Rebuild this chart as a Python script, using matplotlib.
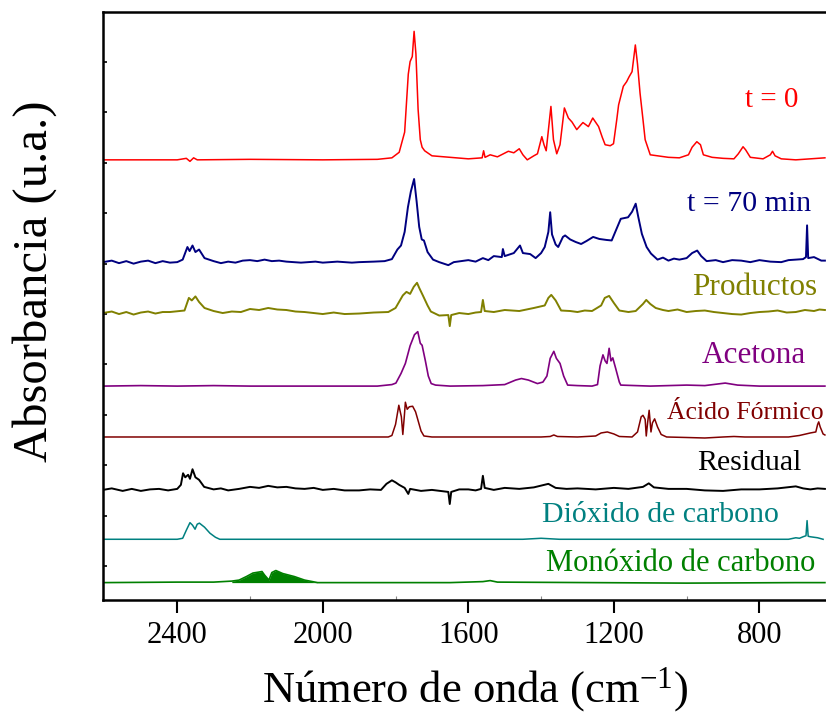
import matplotlib
matplotlib.use('Agg')
import matplotlib.pyplot as plt
import numpy as np

plt.rcParams['font.family'] = 'Liberation Serif'
plt.rcParams['mathtext.fontset'] = 'custom'
plt.rcParams['mathtext.rm'] = 'Liberation Serif'
plt.rcParams['mathtext.it'] = 'Liberation Serif:italic'

# FTIR spectra, stacked with a vertical offset (wavenumber in cm-1, absorbance in a.u.)
names = ['t = 0', 't = 70 min', 'Productos', 'Acetona', 'Ácido Fórmico',
         'Residual', 'Dióxido de carbono', 'Monóxido de carbono']
colors = ['#ff0000', '#000080', '#808000', '#800080', '#800000',
          '#000000', '#008080', '#008000']
offsets = [9.06, 7.03, 6.02, 4.57, 3.56, 2.51, 1.53, 0.67]

t0_wn = [2604, 2400, 2375, 2365, 2355, 2345, 2200, 2000, 1850, 1810, 1790, 1775, 1765, 1760,
         1754, 1749, 1744, 1738, 1732, 1727, 1720, 1700, 1650, 1600, 1562, 1558, 1554, 1540,
         1520, 1490, 1475, 1460, 1450, 1438, 1420, 1410, 1398, 1392, 1386, 1373, 1366, 1357,
         1348, 1336, 1325, 1315, 1302, 1290, 1285, 1270, 1258, 1242, 1232, 1224, 1210, 1201,
         1192, 1187, 1174, 1165, 1158, 1150, 1141, 1135, 1128, 1120, 1114, 1100, 1080, 1050,
         1020, 995, 985, 972, 962, 954, 930, 900, 870, 858, 845, 838, 825, 790, 770, 764,
         757, 740, 700, 620]
t0_abs = [0.00, 0.00, 0.03, -0.03, 0.04, 0.00, 0.01, 0.00, 0.01, 0.04, 0.15, 0.55, 1.70, 1.95,
          2.05, 2.55, 2.10, 1.00, 0.40, 0.25, 0.18, 0.08, 0.05, 0.02, 0.04, 0.18, 0.05, 0.10,
          0.06, 0.17, 0.14, 0.22, 0.10, 0.00, 0.08, 0.12, 0.46, 0.30, 0.18, 1.06, 0.40, 0.12,
          0.30, 1.03, 0.83, 0.75, 0.60, 0.70, 0.74, 0.66, 0.83, 0.66, 0.45, 0.30, 0.28, 0.32,
          0.80, 1.09, 1.46, 1.55, 1.65, 1.75, 2.28, 1.90, 1.32, 0.80, 0.40, 0.10, 0.08, 0.05,
          0.04, 0.10, 0.25, 0.36, 0.30, 0.10, 0.05, 0.03, 0.02, 0.12, 0.26, 0.20, 0.05, 0.02,
          0.10, 0.17, 0.08, 0.02, 0.00, 0.04]

t70_wn = [2604, 2580, 2560, 2540, 2520, 2500, 2480, 2460, 2440, 2420, 2400, 2385, 2372, 2366,
          2358, 2350, 2340, 2325, 2300, 2280, 2260, 2240, 2220, 2200, 2180, 2160, 2140, 2120,
          2100, 2060, 2020, 2000, 1960, 1920, 1900, 1860, 1830, 1810, 1795, 1785, 1775, 1766,
          1758, 1749, 1742, 1735, 1728, 1722, 1712, 1697, 1680, 1655, 1640, 1600, 1580, 1560,
          1545, 1530, 1508, 1505, 1500, 1475, 1458, 1450, 1430, 1415, 1400, 1390, 1380, 1375,
          1370, 1360, 1353, 1340, 1334, 1320, 1305, 1290, 1275, 1257, 1240, 1220, 1206, 1195,
          1181, 1161, 1150, 1140, 1133, 1123, 1110, 1098, 1080, 1065, 1050, 1035, 1020, 1000,
          985, 971, 960, 945, 920, 900, 875, 850, 825, 800, 770, 740, 720, 700, 680, 672, 669,
          666, 650, 630, 620]
t70_abs = [0.00, 0.03, -0.02, 0.02, -0.03, 0.01, 0.03, -0.02, 0.02, -0.01, 0.00, 0.05, 0.30, 0.22,
           0.33, 0.20, 0.25, 0.08, 0.02, -0.02, 0.01, -0.01, 0.03, 0.04, 0.02, 0.05, 0.02, 0.03,
           0.01, -0.01, 0.01, -0.01, 0.01, -0.01, 0.00, 0.01, 0.02, 0.06, 0.25, 0.33, 0.60, 1.09,
           1.40, 1.65, 1.20, 0.70, 0.45, 0.43, 0.20, 0.05, 0.00, -0.06, 0.00, 0.04, 0.01, 0.08,
           0.04, 0.12, 0.10, 0.26, 0.12, 0.18, 0.33, 0.18, 0.16, 0.08, 0.18, 0.30, 0.60, 0.99,
           0.55, 0.35, 0.30, 0.50, 0.53, 0.45, 0.40, 0.36, 0.42, 0.50, 0.46, 0.44, 0.43, 0.62,
           0.86, 0.89, 1.00, 1.16, 0.90, 0.56, 0.30, 0.17, 0.05, 0.09, 0.03, 0.07, 0.05, 0.08,
           0.18, 0.23, 0.12, 0.02, 0.04, 0.00, 0.04, 0.03, 0.00, 0.04, 0.01, 0.00, 0.04, 0.05,
           0.06, 0.10, 0.73, 0.08, 0.10, 0.03, 0.03]

prod_wn = [2604, 2580, 2560, 2540, 2520, 2500, 2480, 2460, 2440, 2420, 2380, 2368, 2360, 2350,
           2340, 2325, 2300, 2275, 2250, 2225, 2200, 2175, 2150, 2125, 2100, 2075, 2050, 2025,
           2000, 1970, 1940, 1900, 1860, 1820, 1800, 1780, 1770, 1760, 1750, 1741, 1735, 1725,
           1712, 1703, 1680, 1655, 1651, 1647, 1625, 1600, 1580, 1565, 1560, 1555, 1530, 1500,
           1460, 1420, 1390, 1380, 1372, 1360, 1345, 1320, 1300, 1280, 1260, 1235, 1225, 1213,
           1200, 1185, 1160, 1140, 1120, 1111, 1100, 1085, 1065, 1050, 1025, 1000, 975, 950, 925,
           900, 875, 850, 825, 800, 775, 750, 725, 700, 675, 650, 635, 620]
prod_abs = [0.00, 0.03, -0.02, 0.02, -0.03, 0.01, 0.03, -0.01, 0.02, 0.02, 0.05, 0.30, 0.25, 0.33,
            0.22, 0.10, 0.04, 0.00, 0.03, 0.02, 0.08, 0.06, 0.10, 0.07, 0.06, 0.03, 0.02, 0.00,
            -0.02, 0.01, -0.02, -0.01, 0.01, 0.02, 0.10, 0.35, 0.42, 0.38, 0.52, 0.60, 0.50, 0.35,
            0.15, 0.03, -0.05, -0.04, -0.26, -0.04, 0.00, -0.02, 0.01, 0.02, 0.26, 0.04, 0.02, 0.06,
            0.04, 0.10, 0.15, 0.30, 0.36, 0.25, 0.05, 0.04, 0.02, 0.05, 0.04, 0.15, 0.30, 0.34,
            0.20, 0.05, 0.02, 0.04, 0.18, 0.26, 0.18, 0.10, 0.06, 0.04, 0.07, 0.02, 0.04, 0.05, 0.02,
            0.00, -0.02, -0.03, 0.00, 0.02, 0.03, 0.05, 0.01, 0.02, 0.06, 0.04, 0.07, 0.06]

acet_wn = [2604, 2500, 2400, 2300, 2200, 2000, 1850, 1810, 1799, 1785, 1773, 1760, 1748, 1739,
           1732, 1727, 1718, 1710, 1702, 1690, 1650, 1560, 1500, 1470, 1454, 1435, 1410, 1395,
           1384, 1375, 1365, 1358, 1348, 1338, 1327, 1300, 1260, 1245, 1238, 1230, 1224, 1219,
           1213, 1208, 1203, 1195, 1185, 1181, 1100, 1000, 950, 894, 860, 800, 620]
acet_abs = [0.00, 0.01, 0.00, 0.01, 0.00, 0.00, 0.00, 0.03, 0.06, 0.25, 0.45, 0.80, 1.02, 1.08,
            0.85, 0.81, 0.50, 0.20, 0.05, 0.02, 0.00, 0.01, 0.03, 0.12, 0.15, 0.12, 0.05, 0.08,
            0.20, 0.55, 0.69, 0.55, 0.45, 0.20, 0.02, 0.01, 0.00, 0.03, 0.40, 0.62, 0.50, 0.45,
            0.75, 0.50, 0.56, 0.35, 0.08, 0.02, 0.00, 0.02, 0.01, 0.06, 0.02, 0.00, 0.00]

form_wn = [2604, 2400, 2100, 1900, 1820, 1810, 1800, 1791, 1784, 1780, 1776, 1773, 1768, 1762,
           1753, 1745, 1741, 1730, 1722, 1700, 1400, 1375, 1365, 1355, 1300, 1250, 1235, 1218,
           1200, 1185, 1150, 1135, 1125, 1120, 1114, 1111, 1107, 1103, 1098, 1094, 1088, 1080,
           1070, 1055, 1000, 950, 900, 870, 840, 720, 690, 660, 645, 640, 637, 633, 625, 620]
form_abs = [0.00, 0.00, 0.00, 0.00, 0.00, 0.03, 0.25, 0.63, 0.40, 0.05, 0.40, 0.69, 0.55, 0.60,
            0.61, 0.50, 0.40, 0.12, 0.02, 0.00, 0.00, 0.01, 0.04, 0.01, 0.00, 0.02, 0.08, 0.10,
            0.06, 0.01, 0.00, 0.10, 0.40, 0.43, 0.35, 0.02, 0.30, 0.53, 0.10, 0.28, 0.36, 0.20,
            0.05, 0.00, -0.01, -0.02, 0.00, 0.01, 0.00, 0.00, 0.03, 0.08, 0.10, 0.25, 0.30, 0.20,
            0.06, 0.04]

resid_wn = [2604, 2580, 2550, 2525, 2500, 2475, 2450, 2425, 2400, 2390, 2384, 2378, 2370, 2365,
            2358, 2350, 2340, 2326, 2300, 2280, 2260, 2230, 2200, 2175, 2150, 2125, 2100, 2075,
            2050, 2025, 2000, 1970, 1940, 1900, 1870, 1840, 1825, 1810, 1800, 1790, 1775, 1765,
            1760, 1730, 1700, 1655, 1651, 1647, 1625, 1600, 1580, 1565, 1560, 1555, 1530, 1500,
            1460, 1420, 1380, 1360, 1330, 1300, 1250, 1200, 1160, 1120, 1104, 1090, 1050, 1000,
            950, 900, 850, 800, 750, 700, 680, 660, 640, 620]
resid_abs = [0.00, 0.03, -0.02, 0.02, -0.02, 0.01, 0.02, -0.01, 0.02, 0.10, 0.33, 0.25, 0.30, 0.22,
             0.41, 0.25, 0.20, 0.06, 0.01, 0.03, -0.01, 0.02, 0.06, 0.04, 0.08, 0.05, 0.06, 0.03,
             0.02, 0.04, 0.00, 0.02, -0.01, -0.01, 0.01, 0.00, 0.12, 0.19, 0.15, 0.10, 0.04, -0.08,
             0.02, -0.02, 0.00, -0.04, -0.28, -0.04, 0.01, 0.01, -0.01, 0.02, 0.28, 0.04, 0.00, 0.04,
             0.02, 0.05, 0.12, 0.04, 0.02, 0.03, 0.01, 0.04, 0.02, 0.06, 0.13, 0.05, 0.02, 0.02,
             -0.01, -0.02, 0.01, 0.01, 0.03, 0.07, 0.03, 0.01, 0.03, 0.02]

co2_wn = [2604, 2400, 2385, 2375, 2365, 2358, 2351, 2345, 2339, 2325, 2310, 2295, 2283, 2100,
          1600, 1450, 1400, 1350, 720, 700, 690, 680, 672, 669, 666, 660, 650, 640, 625]
co2_abs = [0.00, 0.00, 0.02, 0.18, 0.33, 0.28, 0.20, 0.30, 0.32, 0.24, 0.12, 0.04, 0.00, 0.00,
           0.00, 0.00, 0.02, 0.00, 0.00, 0.03, 0.02, 0.05, 0.07, 0.37, 0.06, 0.05, 0.04, 0.03, 0.00]

co_wn = [2604, 2400, 2300, 2250, 2230, 2210, 2192, 2175, 2167, 2160, 2148, 2140, 2129, 2110,
         2078, 2050, 2014, 1800, 1650, 1560, 1540, 1520, 1000, 700, 620]
co_abs = [0.00, 0.01, 0.01, 0.03, 0.05, 0.12, 0.19, 0.21, 0.22, 0.15, 0.05, 0.20, 0.24, 0.18,
          0.12, 0.05, 0.00, 0.00, 0.00, 0.02, 0.04, 0.01, -0.01, 0.00, 0.00]

spectra = [(t0_wn, t0_abs), (t70_wn, t70_abs), (prod_wn, prod_abs), (acet_wn, acet_abs),
           (form_wn, form_abs), (resid_wn, resid_abs), (co2_wn, co2_abs), (co_wn, co_abs)]
line_w = [1.1, 1.4, 1.4, 1.2, 1.1, 1.4, 1.1, 1.2]

# label anchor (wavenumber, height above the curve baseline) and font size
label_pos = [(765, 1.19), (828, 1.15), (812, 0.50), (815, 0.60), (839, 0.48),
             (828, 0.53), (1073, 0.48), (1015, 0.37)]
label_size = [21, 21.5, 22.5, 22.5, 18.5, 21.5, 21.5, 22]

fig = plt.figure(figsize=(8.26, 7.15), dpi=100)
ax = fig.add_axes([103 / 826, 115 / 715, 723 / 826, 588.3 / 715])

for (wn, a), off, c, lw, name, (lx, ly), fs in zip(spectra, offsets, colors, line_w, names,
                                                   label_pos, label_size):
    ax.plot(wn, np.array(a) + off, color=c, lw=lw)
    ax.text(lx, off + ly, name, color=c, fontsize=fs, ha='center', va='center')

# CO rotational band drawn as a dense filled envelope
co_y = np.array(co_abs) + offsets[7]
band = (np.array(co_wn) <= 2250) & (np.array(co_wn) >= 2014)
ax.fill_between(co_wn, offsets[7], co_y, where=band, color=colors[7], lw=0)

ax.set_xlim(2604, 617)
ax.set_ylim(0.325, 12.0)
ax.set_xticks([2400, 2000, 1600, 1200, 800])
ax.set_xticks([2200, 1800, 1400, 1000], minor=True)
ax.set_yticks(np.arange(1, 12))
ax.set_yticklabels([])
ax.tick_params(axis='x', which='major', direction='out', length=9, width=1.5, labelsize=22, pad=6)
ax.tick_params(axis='x', which='minor', direction='in', length=3, width=0.8, color='#888888')
ax.tick_params(axis='y', which='major', direction='in', length=3, width=1.2)
for side in ['left', 'bottom', 'top']:
    ax.spines[side].set_linewidth(1.8)
ax.spines['right'].set_visible(False)

fig.text(475 / 826, 1 - 690 / 715, 'Número de onda (cm$^{-1}$)', fontsize=32, ha='center', va='center')
fig.text(35 / 826, 1 - 281 / 715, 'Absorbancia (u.a.)', fontsize=35, rotation=90, ha='center', va='center')

fig.savefig('out.png', dpi=100)
